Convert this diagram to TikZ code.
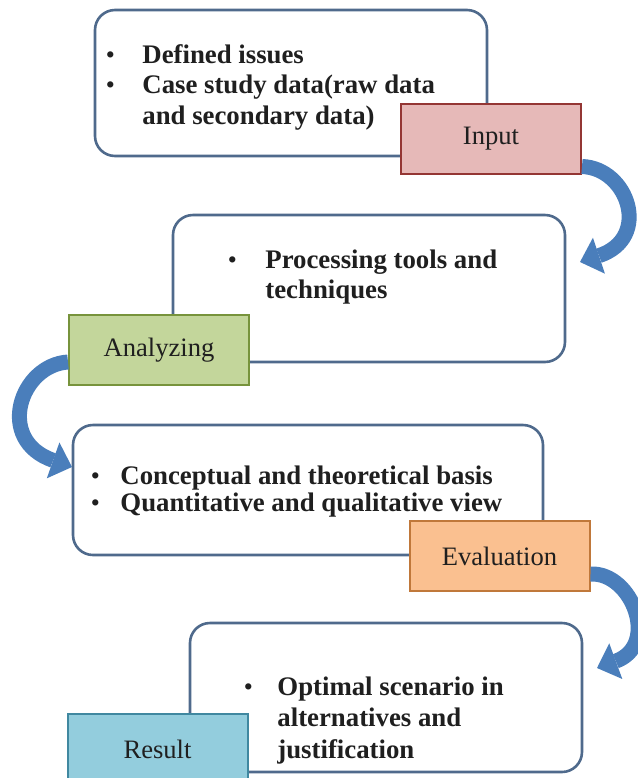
\documentclass[tikz,border=0pt]{standalone}
\usepackage{fontspec}
\setmainfont{Liberation Serif}
\usepackage{xcolor}
\usepackage{tikz}
\usetikzlibrary{arrows.meta,calc,positioning}
\newcommand{\bxfont}{\fontsize{13.4pt}{15.25pt}\selectfont\bfseries}
\newcommand{\tgfont}{\fontsize{13.3pt}{15pt}\selectfont}
\newcommand{\bul}{\raisebox{0.5pt}{\fontsize{11.5pt}{11.5pt}\selectfont\textbullet}}
\definecolor{boxline}{HTML}{4F6A8C}
\definecolor{labtext}{HTML}{1F1F1F}
\definecolor{arrblue}{HTML}{4A7EBB}
\definecolor{infill}{HTML}{E6B9B8}
\definecolor{inline}{HTML}{943634}
\definecolor{anfill}{HTML}{C3D69B}
\definecolor{anline}{HTML}{77933C}
\definecolor{evfill}{HTML}{FAC090}
\definecolor{evline}{HTML}{C0783A}
\definecolor{refill}{HTML}{93CDDD}
\definecolor{reline}{HTML}{4088A0}
\tikzset{
  cbox/.style={draw=boxline, line width=1.3pt, fill=white, rounded corners=10pt, inner sep=0pt},
  tagbox/.style={line width=1pt, minimum width=90pt, minimum height=35pt, inner sep=0pt, font=\tgfont, text=labtext},
  listtext/.style={inner sep=0pt, anchor=base west, font=\bxfont, text=labtext},
  bendarr/.style={-{Triangle[length=10pt,width=19pt,line width=0pt]}, line width=7.5pt, draw=arrblue}
}

\begin{document}
\begin{tikzpicture}[x=0.5pt,y=-0.5pt]
  \useasboundingbox (0,0) rectangle (638,778);
  \node[cbox,minimum width=196pt,minimum height=73pt] (ibox) at (291,83) {};
  \node[cbox,minimum width=196pt,minimum height=73.5pt] (abox) at (369,288.5) {};
  \node[cbox,minimum width=235pt,minimum height=65pt] (ebox) at (308,490) {};
  \node[cbox,minimum width=196pt,minimum height=74.5pt] (rbox) at (386,697.5) {};
  \node[tagbox,fill=infill,draw=inline] (input) at (491,138.5) {Input};
  \node[tagbox,fill=anfill,draw=anline] (analyzing) at (159,350) {Analyzing};
  \node[tagbox,fill=evfill,draw=evline] (evaluation) at (499.5,556) {Evaluation};
  \node[tagbox,fill=refill,draw=reline] (result) at (157.5,749) {Result};
  \node[listtext] (itxt) at (106,63) {\begin{tabular}[t]{@{}p{18pt}@{}l@{}}
    \bul & Defined issues\\
    \bul & Case study data(raw data\\
         & and secondary data)\end{tabular}};
  \node[listtext] (atxt) at (228,268) {\begin{tabular}[t]{@{}p{18.5pt}@{}l@{}}
    \bul & Processing tools and\\
         & techniques\end{tabular}};
  \node[listtext,font={\fontsize{13.4pt}{13.5pt}\selectfont\bfseries}] (etxt) at (91,484) {\begin{tabular}[t]{@{}p{14.5pt}@{}l@{}}
    \bul & Conceptual and theoretical basis\\
    \bul & Quantitative and qualitative view\end{tabular}};
  \node[listtext,font={\fontsize{13.4pt}{15.75pt}\selectfont\bfseries}] (rtxt) at (244,695) {\begin{tabular}[t]{@{}p{16.5pt}@{}l@{}}
    \bul & Optimal scenario in\\
         & alternatives and\\
         & justification\end{tabular}};
  \coordinate (a1) at (580,262);
  \coordinate (a2) at (72,467);
  \coordinate (a3) at (597,668);
  \draw[bendarr] ($(input.south east)+(0,-8)$) .. controls (628,168) and (652,238) .. (a1);
  \draw[bendarr] ($(analyzing.south west)+(0,-24)$) .. controls (20,365) and (-5,440) .. (a2);
  \draw[bendarr] ($(evaluation.south east)+(0,-18)$) .. controls (632,572) and (660,645) .. (a3);
\end{tikzpicture}
\end{document}
